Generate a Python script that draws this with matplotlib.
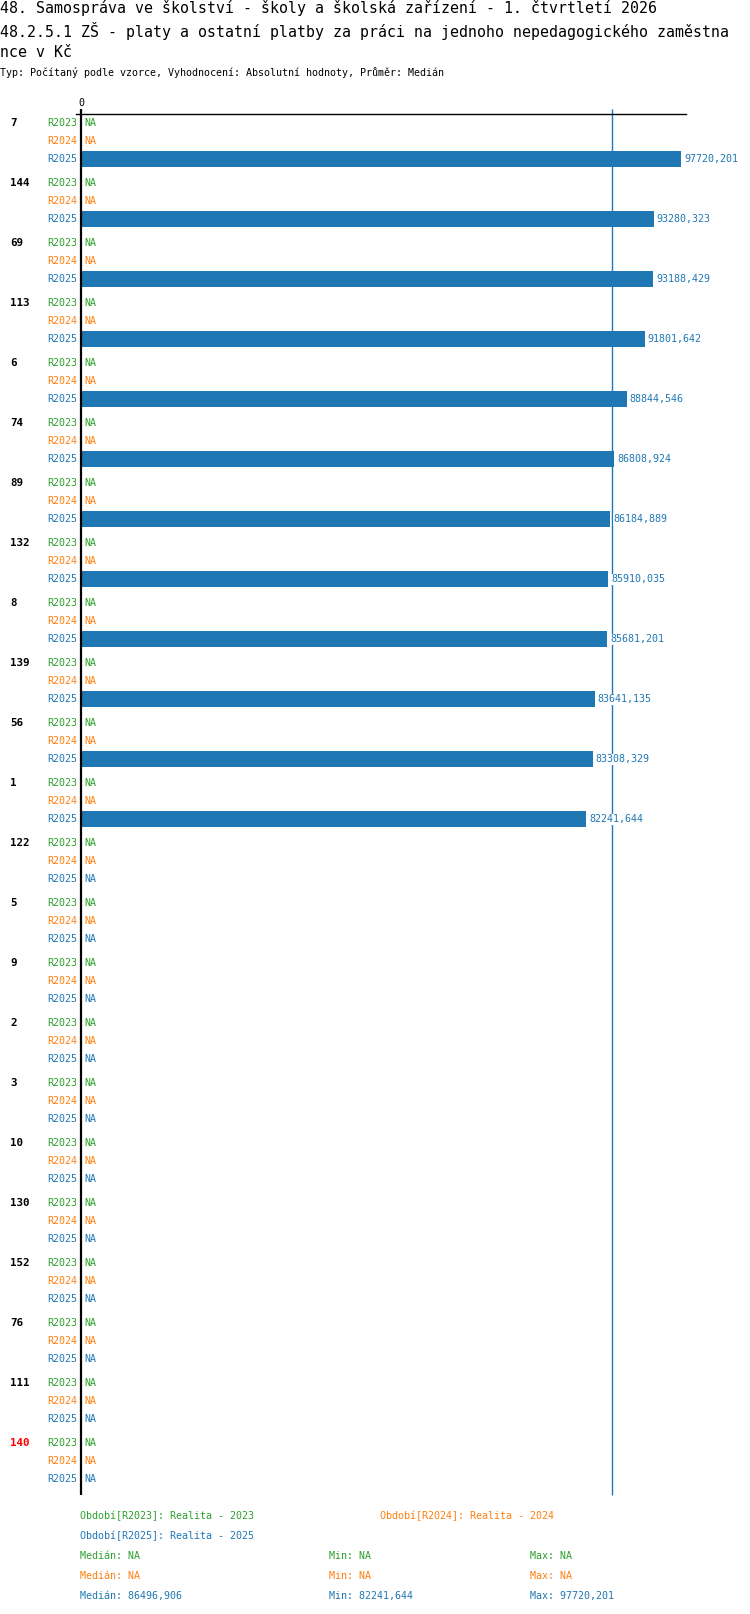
import matplotlib
matplotlib.use("Agg")
import matplotlib.pyplot as plt

# ---------------- data ----------------
groups = ["7", "144", "69", "113", "6", "74", "89", "132", "8", "139", "56", "1",
          "122", "5", "9", "2", "3", "10", "130", "152", "76", "111", "140"]
periods = ["R2023", "R2024", "R2025"]
r2023 = [None] * 23
r2024 = [None] * 23
r2025 = [97720.201, 93280.323, 93188.429, 91801.642, 88844.546, 86808.924,
         86184.889, 85910.035, 85681.201, 83641.135, 83308.329, 82241.644] + [None] * 11
highlight = "140"
median_2025 = 86496.906
min_2025 = 82241.644
max_2025 = 97720.201

title_lines = [
    "48. Samospráva ve školství - školy a školská zařízení - 1. čtvrtletí 2026",
    "48.2.5.1 ZŠ - platy a ostatní platby za práci na jednoho nepedagogického zaměstna",
    "nce v Kč",
]
subtitle = "Typ: Počítaný podle vzorce, Vyhodnocení: Absolutní hodnoty, Průměr: Medián"
legend_names = ["Období[R2023]: Realita - 2023", "Období[R2024]: Realita - 2024",
                "Období[R2025]: Realita - 2025"]

# ---------------- style ----------------
colors = ["#2ca02c", "#ff7f0e", "#1f77b4"]
FONT = ["DejaVu Sans Mono", "DejaVu Sans"]
plt.rcParams["font.family"] = FONT
W, H = 750, 1614
fs = 7.2


def fx(px):
    return px / W


def fy(py):
    return 1 - py / H


def fmt(v):
    return "NA" if v is None else f"{v:.3f}".replace(".", ",")


fig = plt.figure(figsize=(W / 100, H / 100), dpi=100)
ax_left, ax_right, ax_top, ax_bottom = 81, 686, 114, 1495
ax = fig.add_axes([fx(ax_left), fy(ax_bottom), fx(ax_right - ax_left), (ax_bottom - ax_top) / H])
span = ax_bottom - ax_top
bar_end_px = 600.0
xmax = max_2025 * (ax_right - ax_left) / bar_end_px
ax.set_xlim(0, xmax)
ax.set_ylim(span, 0)
ax.axis("off")

group_step, slot, first = 60, 18, 9
series = [r2023, r2024, r2025]

# median line (behind bars)
ax.plot([median_2025, median_2025], [-5, span], color=colors[2], lw=1.0,
        clip_on=False, zorder=1, solid_capstyle="butt")

for gi, g in enumerate(groups):
    base = first + gi * group_step
    ax.text(-71 / 605, base, g, transform=ax.get_yaxis_transform(), ha="left", va="center",
            fontsize=7.8, fontweight="bold", color=("#ff0000" if g == highlight else "black"))
    for j, (p, vals) in enumerate(zip(periods, series)):
        y = base + j * slot
        v = vals[gi]
        ax.text(-4 / 605, y, p, transform=ax.get_yaxis_transform(), ha="right", va="center",
                fontsize=fs, color=colors[j])
        if v is None:
            ax.text(3 / 605, y, "NA", transform=ax.get_yaxis_transform(), ha="left",
                    va="center", fontsize=fs, color=colors[j])
        else:
            ax.barh(y, v, height=16, color=colors[j], zorder=2)
            ax.annotate(fmt(v), xy=(v, y), xytext=(2.2, 0), textcoords="offset points",
                        ha="left", va="center", fontsize=fs, color=colors[j], zorder=3,
                        bbox=dict(boxstyle="square,pad=0.05", fc="white", ec="none"))

# axis lines
ax.plot([-5 / 605 * xmax, xmax], [0, 0], color="black", lw=1.0, clip_on=False, zorder=4)
ax.plot([0, 0], [-5, span], color="black", lw=1.6, clip_on=False, zorder=4,
        solid_capstyle="butt")
ax.text(0, -11, "0", ha="center", va="center", fontsize=fs, color="black")

# titles
for i, line in enumerate(title_lines):
    fig.text(fx(0), fy(8.5 + 22 * i), line, ha="left", va="center", fontsize=10.75, color="black")
fig.text(fx(0), fy(72.5), subtitle, ha="left", va="center", fontsize=fs, color="black")

# legend
fig.text(fx(80), fy(1516), legend_names[0], fontsize=fs, color=colors[0], va="center")
fig.text(fx(380), fy(1516), legend_names[1], fontsize=fs, color=colors[1], va="center")
fig.text(fx(80), fy(1536), legend_names[2], fontsize=fs, color=colors[2], va="center")

stats = [
    (None, None, None),
    (None, None, None),
    (median_2025, min_2025, max_2025),
]
for j, (md, mn, mx) in enumerate(stats):
    yy = fy(1556 + 20 * j)
    fig.text(fx(80), yy, "Medián: " + fmt(md), fontsize=fs, color=colors[j], va="center")
    fig.text(fx(329), yy, "Min: " + fmt(mn), fontsize=fs, color=colors[j], va="center")
    fig.text(fx(530), yy, "Max: " + fmt(mx), fontsize=fs, color=colors[j], va="center")

fig.savefig("out.png", dpi=100, facecolor="white")
